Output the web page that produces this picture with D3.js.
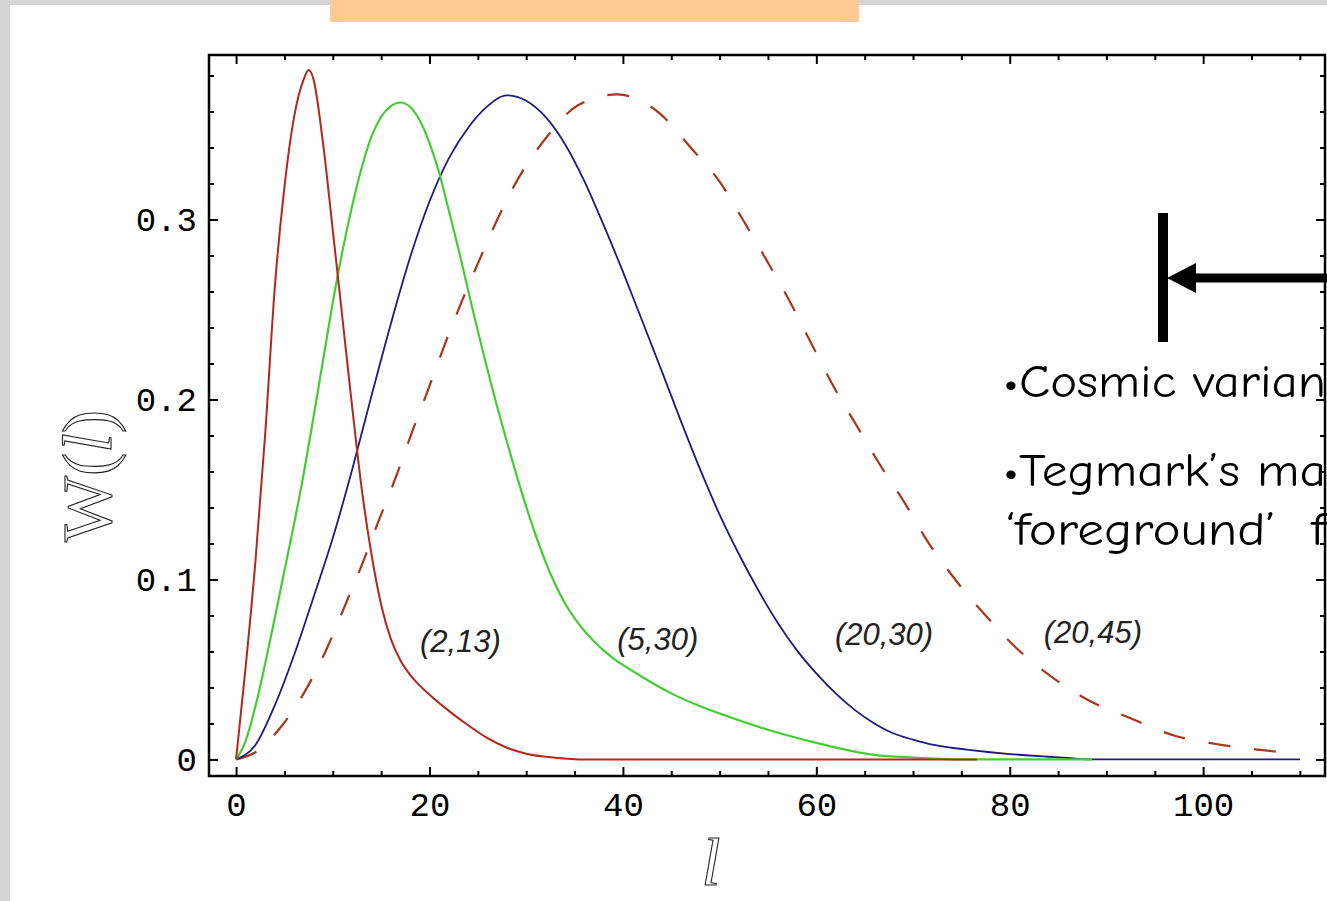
<!DOCTYPE html>
<html>
<head>
<meta charset="utf-8">
<script src="https://cdn.jsdelivr.net/npm/d3@7"></script>
<style>
html,body{margin:0;padding:0;background:#fff;overflow:hidden}
svg{display:block}
</style>
</head>
<body>
<svg id="chart" width="1327" height="901"></svg>
<script>
// ---------------- data ----------------
const xTicks = [0, 20, 40, 60, 80, 100];
const yTicks = [0, 0.1, 0.2, 0.3];
const yTickLabels = ["0", "0.1", "0.2", "0.3"];
const seriesLabels = ["(2,13)", "(5,30)", "(20,30)", "(20,45)"];

const red_l = [0,1,2,3,4,5,6,7,7.5,8,9,10,11,12,13,14,15,16,17,18,19,20,22,24,26,28,30,33,36,76.6];
const red_w = [0,0.052,0.11,0.18,0.262,0.318,0.357,0.378,0.383,0.378,0.342,0.294,0.245,0.196,0.15,0.114,0.086,0.067,0.055,0.047,0.041,0.036,0.027,0.019,0.0118,0.0065,0.0032,0.001,0,0];

const green_l = [0,1,2,3,4,5,6,7,8,9,10,11,12,13,14,15,16,17,18,19,20,21,22,23,24,25,26,27,28,29,30,31,32,33,34,35,36,37,38,39,40,42,45,48,50,55,60,62.5,66,70,75,88.5];
const green_w = [0,0.0105,0.0295,0.053,0.0785,0.105,0.131,0.159,0.19,0.222,0.254,0.2825,0.3075,0.329,0.346,0.357,0.363,0.365,0.3625,0.355,0.3425,0.326,0.305,0.2835,0.2605,0.238,0.2165,0.196,0.1765,0.158,0.1405,0.1243,0.1098,0.0973,0.0868,0.0785,0.0715,0.0657,0.0606,0.0562,0.0525,0.0458,0.0367,0.0295,0.0255,0.0165,0.0092,0.006,0.0025,0.001,0,0];

const blue_l = [0,2,4,6,8,10,12,14,16,18,20,22,24,26,28,30,32,34,36,38,40,42,44,46,48,50,52,54,56,58,60,62,64,66,68,70,72,74,76,78,80,82,84,86,88.6,110];
const blue_w = [0,0.008,0.03,0.058,0.09,0.123,0.161,0.202,0.242,0.279,0.31,0.334,0.351,0.363,0.369,0.366,0.357,0.342,0.3215,0.297,0.271,0.2436,0.216,0.188,0.161,0.136,0.114,0.094,0.076,0.0606,0.0478,0.0367,0.0274,0.02,0.0144,0.011,0.0082,0.0065,0.0052,0.004,0.003,0.0022,0.0015,0.0008,0,0];

const dash_l = [0,2,4.55,7.1,9.4,11.3,13,14.7,16.6,18.2,19.9,21.4,23.3,25.2,27.1,29.2,32,35.4,39.4,43.8,47,50,52.5,54.9,57.3,59.4,61.6,64,66.6,69.2,71.4,74.4,77.5,80.7,84.3,88.1,92.5,96.8,101.3,105.9,110];
const dash_w = [0,0.004,0.0175,0.0377,0.0618,0.086,0.108,0.132,0.158,0.182,0.206,0.228,0.254,0.278,0.301,0.323,0.345,0.3636,0.3695,0.359,0.34,0.321,0.299,0.277,0.254,0.232,0.209,0.187,0.1636,0.142,0.122,0.0997,0.08,0.0618,0.046,0.033,0.0229,0.0136,0.0086,0.0053,0.003];

const sideText = ["\u2022Cosmic varian", "\u2022Tegmark\u2019s ma", "\u2018foreground\u2019  f"];

// ---------------- drawing ----------------
const svg = d3.select("#chart");
const W = 1327, H = 901;
const frame = {left: 209, top: 55, right: 1325, bottom: 776};

// background: grey edge + white sheet + orange title bar
svg.append("rect").attr("x", 0).attr("y", 0).attr("width", W).attr("height", H).attr("fill", "#d6d6d6");
svg.append("rect").attr("x", 10).attr("y", 5).attr("width", W - 10).attr("height", H - 5).attr("fill", "#ffffff");
svg.append("rect").attr("x", 330).attr("y", 0).attr("width", 529).attr("height", 22).attr("fill", "#ffca96");

const x = d3.scaleLinear().domain([-2.8, 112.6]).range([frame.left, frame.right]);
const y = d3.scaleLinear().domain([-0.0092, 0.3914]).range([frame.bottom, frame.top]);

svg.append("defs").append("clipPath").attr("id", "plotclip")
  .append("rect").attr("x", frame.left).attr("y", frame.top)
  .attr("width", frame.right - frame.left).attr("height", frame.bottom - frame.top);

const line = d3.line().x(d => x(d[0])).y(d => y(d[1])).curve(d3.curveMonotoneX);
const zip = (a, b) => a.map((v, i) => [v, b[i]]);

const curves = svg.append("g").attr("clip-path", "url(#plotclip)").attr("fill", "none");
curves.append("path").attr("d", line(zip(dash_l, dash_w)))
  .attr("stroke", "#a8361c").attr("stroke-width", 2.2).attr("stroke-dasharray", "22,24");
curves.append("path").attr("d", line(zip(blue_l, blue_w)))
  .attr("stroke", "#1c1c7c").attr("stroke-width", 1.8);
curves.append("path").attr("d", line(zip(green_l, green_w)))
  .attr("stroke", "#44cc33").attr("stroke-width", 2.2);
curves.append("path").attr("d", line(zip(red_l, red_w)))
  .attr("stroke", "#b0281c").attr("stroke-width", 2);

// axes (ticks pointing inward, Mathematica frame style)
const xMinor = d3.range(0, 111, 5).filter(v => v % 20 !== 0);
const yMinor = d3.range(0, 0.39, 0.02).filter(v => Math.abs(v * 10 - Math.round(v * 10)) > 1e-6);
const tickFont = "'Liberation Mono', 'DejaVu Sans Mono', monospace";

function styleAxis(g) {
  g.select(".domain").remove();
  g.selectAll("line").attr("stroke", "#000").attr("stroke-width", 2);
}

const gB = svg.append("g").attr("transform", `translate(0,${frame.bottom})`)
  .call(d3.axisBottom(x).tickValues(xTicks).tickSizeInner(-9).tickSizeOuter(0).tickPadding(16).tickFormat(d3.format("d")));
styleAxis(gB);
gB.selectAll("text").attr("font-family", tickFont).attr("font-size", 34).attr("fill", "#000");
const gBm = svg.append("g").attr("transform", `translate(0,${frame.bottom})`)
  .call(d3.axisBottom(x).tickValues(xMinor).tickSizeInner(-5).tickSizeOuter(0).tickFormat(""));
styleAxis(gBm);

const gT = svg.append("g").attr("transform", `translate(0,${frame.top})`)
  .call(d3.axisTop(x).tickValues(xTicks).tickSizeInner(-9).tickSizeOuter(0).tickFormat(""));
styleAxis(gT);
const gTm = svg.append("g").attr("transform", `translate(0,${frame.top})`)
  .call(d3.axisTop(x).tickValues(xMinor).tickSizeInner(-5).tickSizeOuter(0).tickFormat(""));
styleAxis(gTm);

const gL = svg.append("g").attr("transform", `translate(${frame.left},0)`)
  .call(d3.axisLeft(y).tickValues(yTicks).tickSizeInner(-9).tickSizeOuter(0).tickPadding(12)
    .tickFormat((d, i) => yTickLabels[i]));
styleAxis(gL);
gL.selectAll("text").attr("font-family", tickFont).attr("font-size", 34).attr("fill", "#000");
const gLm = svg.append("g").attr("transform", `translate(${frame.left},0)`)
  .call(d3.axisLeft(y).tickValues(yMinor).tickSizeInner(-5).tickSizeOuter(0).tickFormat(""));
styleAxis(gLm);

const gR = svg.append("g").attr("transform", `translate(${frame.right},0)`)
  .call(d3.axisRight(y).tickValues(yTicks).tickSizeInner(-9).tickSizeOuter(0).tickFormat(""));
styleAxis(gR);
const gRm = svg.append("g").attr("transform", `translate(${frame.right},0)`)
  .call(d3.axisRight(y).tickValues(yMinor).tickSizeInner(-5).tickSizeOuter(0).tickFormat(""));
styleAxis(gRm);

// frame
svg.append("rect").attr("x", frame.left).attr("y", frame.top)
  .attr("width", frame.right - frame.left).attr("height", frame.bottom - frame.top)
  .attr("fill", "none").attr("stroke", "#000").attr("stroke-width", 2.5);

// curve labels
const labelAnchors = [[23.2, 0.0597], [43.6, 0.0608], [67.0, 0.0636], [88.6, 0.0647]];
svg.append("g").selectAll("text").data(seriesLabels).join("text")
  .attr("x", (d, i) => x(labelAnchors[i][0]))
  .attr("y", (d, i) => y(labelAnchors[i][1]))
  .attr("text-anchor", "middle")
  .attr("font-family", "'Liberation Sans', Arial, sans-serif")
  .attr("font-style", "italic")
  .attr("font-size", 31)
  .attr("fill", "#222")
  .text(d => d);

// axis titles (thin outlined serif, as in the original)
const yTitle = svg.append("text")
  .attr("transform", "translate(87,476) rotate(-90)")
  .attr("text-anchor", "middle").attr("dominant-baseline", "central")
  .attr("font-family", "'Liberation Serif', 'Times New Roman', serif")
  .attr("font-size", 70).attr("fill", "none").attr("stroke", "#222").attr("stroke-width", 1.1);
yTitle.append("tspan").text("W(");
yTitle.append("tspan").attr("font-style", "italic").text("l");
yTitle.append("tspan").text(")");

svg.append("text")
  .attr("x", 711).attr("y", 885).attr("text-anchor", "middle")
  .attr("font-family", "'Liberation Serif', 'Times New Roman', serif")
  .attr("font-style", "italic")
  .attr("font-size", 68).attr("fill", "none").attr("stroke", "#222").attr("stroke-width", 1.1)
  .text("l");

// arrow annotation
svg.append("rect").attr("x", 1158).attr("y", 213).attr("width", 10).attr("height", 129).attr("fill", "#000");
svg.append("line").attr("x1", 1190).attr("x2", 1327).attr("y1", 278).attr("y2", 278)
  .attr("stroke", "#000").attr("stroke-width", 9);
svg.append("path").attr("d", "M1167,278 L1196,263 L1196,293 Z").attr("fill", "#000");

// side text (slide bullets, cut at the right edge)
const sideFont = "'Comic Sans MS', 'Comic Neue', Lato, 'Noto Sans', sans-serif";
const sidePos = [[1003, 397, 323], [1003, 486, 323], [1005, 545, 321]];
svg.append("g").selectAll("text").data(sideText).join("text")
  .attr("x", (d, i) => sidePos[i][0])
  .attr("y", (d, i) => sidePos[i][1])
  .attr("textLength", (d, i) => sidePos[i][2])
  .attr("lengthAdjust", "spacingAndGlyphs")
  .attr("font-family", sideFont)
  .attr("font-size", 46)
  .attr("fill", "#000")
  .attr("xml:space", "preserve")
  .style("white-space", "pre")
  .text(d => d);
</script>
</body>
</html>
